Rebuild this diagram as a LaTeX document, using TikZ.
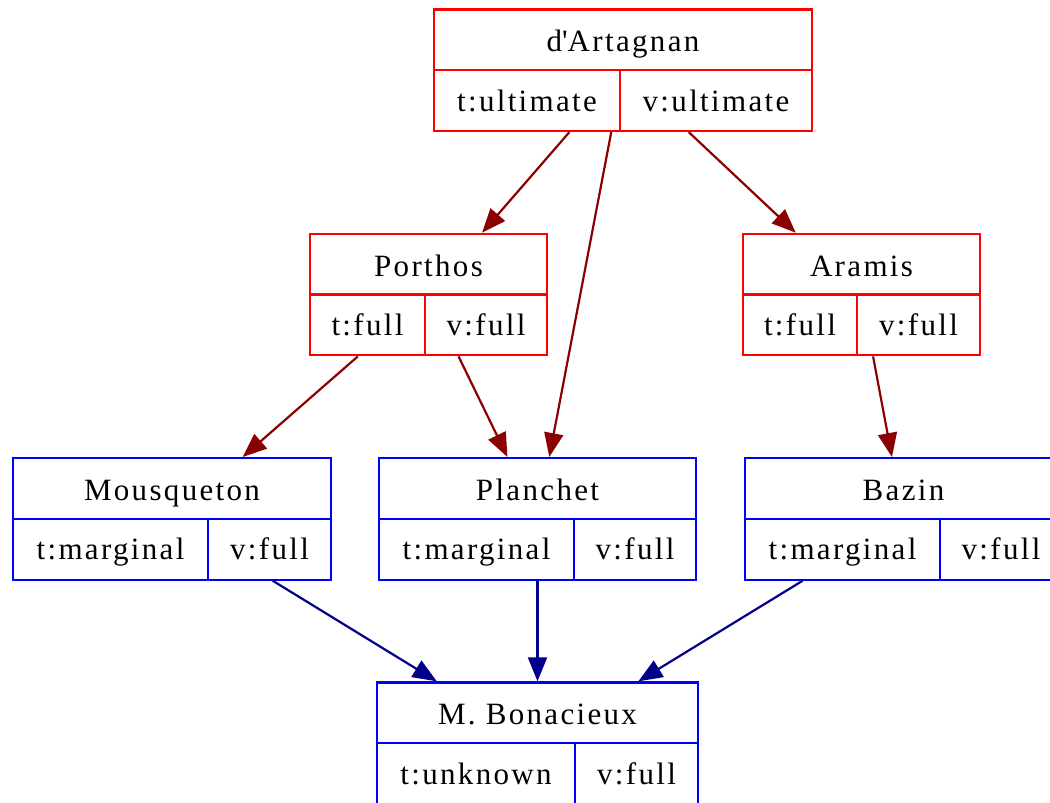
\documentclass[tikz,border=0pt]{standalone}
\usepackage{fontspec}
\setmainfont{Liberation Serif}[LetterSpace=7.5]
\usetikzlibrary{arrows.meta}

\definecolor{recred}{HTML}{FF0000}
\definecolor{recblue}{HTML}{0000FF}
\definecolor{edgered}{HTML}{8B0000}
\definecolor{edgeblue}{HTML}{00008B}

\tikzset{
  redrec/.style={draw=recred, line width=2.2pt, minimum height=121.5pt, inner sep=0pt},
  bluerec/.style={draw=recblue, line width=2.2pt, minimum height=121.5pt, inner sep=0pt},
  redrec line/.style={draw=recred, line width=2.2pt},
  bluerec line/.style={draw=recblue, line width=2.2pt},
  fieldtext/.style={font=\fontsize{31}{37}\selectfont, inner sep=0pt, anchor=base},
  redarrow/.style={draw=edgered, line width=2.2pt,
    -{Triangle[length=24pt,width=19pt,fill=edgered]}},
  bluearrow/.style={draw=edgeblue, line width=2.2pt,
    -{Triangle[length=24pt,width=19pt,fill=edgeblue]}},
}

% record: name, colour, centre x, centre y, width, divider x, title, left field, right field
\newcommand{\recordbox}[9]{%
  \node[#2rec, minimum width=#5pt] (#1) at (#3,#4) {};
  \draw[#2rec line] (#1.west) -- (#1.east);
  \draw[#2rec line] (#6,#4) -- (#6,{#4+60.75});
  \node[fieldtext] (#1-name) at (#3,{#4-18.5}) {#7};
  \node[fieldtext] (#1-t) at ({(#3-#5/2+#6)/2},{#4+41}) {#8};
  \node[fieldtext] (#1-v) at ({(#3+#5/2+#6)/2},{#4+41}) {#9};
}

\begin{document}
\begin{tikzpicture}[x=1pt,y=-1pt]
  \useasboundingbox (0,0) rectangle (1050,803);
  \clip (0,0) rectangle (1050,803);

  \recordbox{dart}{red}{623}{70.25}{378}{620}{d\textquotesingle Artagnan}{t:ultimate}{v:ultimate}
  \recordbox{porthos}{red}{428.5}{294.55}{237}{425}{Porthos}{t:full}{v:full}
  \recordbox{aramis}{red}{861.5}{294.55}{237}{857}{Aramis}{t:full}{v:full}
  \recordbox{mousq}{blue}{172}{518.85}{318}{208}{Mousqueton}{t:marginal}{v:full}
  \recordbox{planchet}{blue}{537.5}{518.85}{317}{574}{Planchet}{t:marginal}{v:full}
  \recordbox{bazin}{blue}{903.5}{518.85}{317}{940}{Bazin}{t:marginal}{v:full}
  \recordbox{bonac}{blue}{537.5}{743.15}{321}{575}{M. Bonacieux}{t:unknown}{v:full}

  \draw[redarrow] (dart) -- (porthos);
  \draw[redarrow] (dart) -- (planchet);
  \draw[redarrow] (dart) -- (aramis);
  \draw[redarrow] (porthos) -- (mousq);
  \draw[redarrow] (porthos) -- (planchet);
  \draw[redarrow] (aramis) -- (bazin);
  \draw[bluearrow] (mousq) -- (bonac);
  \draw[bluearrow] (planchet) -- (bonac);
  \draw[bluearrow] (bazin) -- (bonac);
\end{tikzpicture}
\end{document}
